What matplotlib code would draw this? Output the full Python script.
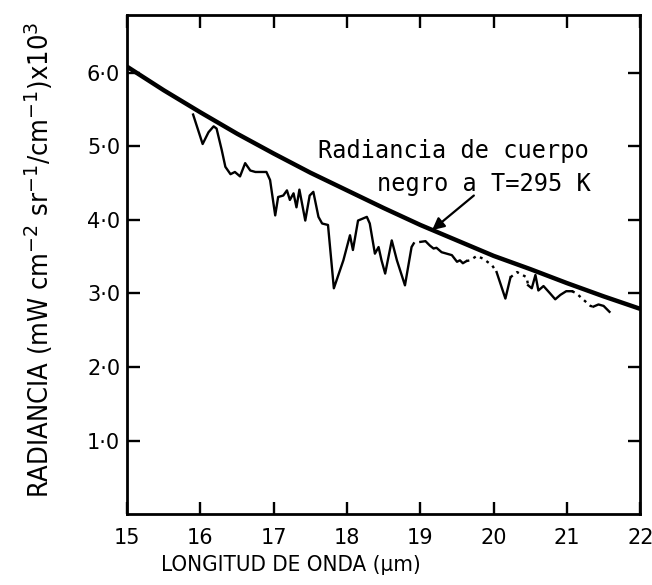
import numpy as np
import matplotlib.pyplot as plt

# black body curve
bb_wl = [15.0, 15.5, 16.0, 16.5, 17.0, 17.5, 18.0, 18.5, 19.0, 19.5, 20.0, 20.5, 21.0, 21.5, 22.0]
bb_rad = [6.08, 5.76, 5.46, 5.17, 4.90, 4.64, 4.40, 4.16, 3.93, 3.72, 3.51, 3.33, 3.14, 2.96, 2.79]

# measured spectrum, solid pieces
wl_a = [15.90, 16.03, 16.11, 16.18, 16.22, 16.29, 16.34, 16.41, 16.47, 16.54, 16.61, 16.68,
        16.75, 16.90, 16.95, 17.02, 17.06, 17.13, 17.18, 17.22, 17.27, 17.31, 17.35, 17.43,
        17.49, 17.54, 17.61, 17.66, 17.74, 17.82, 17.95, 18.04, 18.08, 18.15, 18.27, 18.31,
        18.38, 18.43, 18.47, 18.52, 18.61, 18.68, 18.79, 18.88, 18.91]
rad_a = [5.43, 5.03, 5.19, 5.27, 5.24, 4.95, 4.72, 4.62, 4.65, 4.59, 4.77, 4.67,
         4.65, 4.65, 4.54, 4.06, 4.31, 4.33, 4.40, 4.27, 4.36, 4.17, 4.41, 3.99,
         4.33, 4.38, 4.04, 3.95, 3.93, 3.07, 3.45, 3.79, 3.59, 3.99, 4.04, 3.95,
         3.54, 3.63, 3.45, 3.27, 3.72, 3.45, 3.11, 3.63, 3.68]
wl_b = [19.00, 19.07, 19.13, 19.18, 19.22, 19.29, 19.36, 19.43, 19.50, 19.54, 19.58, 19.63]
rad_b = [3.70, 3.71, 3.65, 3.61, 3.62, 3.56, 3.54, 3.52, 3.43, 3.45, 3.41, 3.44]
wl_c = [20.04, 20.16, 20.23]
rad_c = [3.29, 2.93, 3.22]
wl_d = [20.47, 20.52, 20.57, 20.61, 20.68, 20.77, 20.84, 20.91, 20.99, 21.07]
rad_d = [3.11, 3.07, 3.25, 3.04, 3.10, 3.00, 2.92, 2.98, 3.03, 3.03]
wl_e = [21.36, 21.43, 21.50, 21.58]
rad_e = [2.82, 2.85, 2.83, 2.75]

# dotted pieces
wl_dot1 = [19.63, 19.68, 19.77, 19.86, 19.98, 20.04]
rad_dot1 = [3.44, 3.45, 3.51, 3.47, 3.38, 3.29]
wl_dot2 = [20.23, 20.32, 20.45, 20.47]
rad_dot2 = [3.22, 3.29, 3.22, 3.11]
wl_dot3 = [21.07, 21.13, 21.23, 21.32, 21.36]
rad_dot3 = [3.03, 3.00, 2.91, 2.83, 2.82]

xticks = [15, 16, 17, 18, 19, 20, 21, 22]
yticks = [1, 2, 3, 4, 5, 6]

fig = plt.figure(figsize=(6.52, 5.85), dpi=100)
ax = fig.add_axes([0.195, 0.121, 0.787, 0.853])

ax.plot(bb_wl, bb_rad, color='black', lw=3.2, solid_capstyle='butt')
for x, y in [(wl_a, rad_a), (wl_b, rad_b), (wl_c, rad_c), (wl_d, rad_d), (wl_e, rad_e)]:
    ax.plot(x, y, color='black', lw=1.7)
for x, y in [(wl_dot1, rad_dot1), (wl_dot2, rad_dot2), (wl_dot3, rad_dot3)]:
    ax.plot(x, y, color='black', lw=1.7, linestyle=(0, (1.2, 2.0)))

ax.annotate('', xy=(19.16, 3.86), xytext=(19.73, 4.33),
            arrowprops=dict(arrowstyle='-|>', color='black', lw=1.6,
                            mutation_scale=18, shrinkA=0, shrinkB=0))
ax.text(21.3, 4.93, 'Radiancia de cuerpo', ha='right', va='center',
        family='DejaVu Sans Mono', fontsize=17)
ax.text(21.32, 4.48, 'negro a T=295 K', ha='right', va='center',
        family='DejaVu Sans Mono', fontsize=17)

ax.set_xlim(15, 22)
ax.set_ylim(0, 6.78)
ax.set_xticks(xticks)
ax.set_xticklabels([str(t) for t in xticks])
ax.set_yticks(yticks)
ax.set_yticklabels([f'{t:.1f}'.replace('.', '·') for t in yticks])
ax.tick_params(direction='in', length=9, width=1.7, labelsize=15,
               top=True, right=True)
ax.tick_params(axis='x', pad=10)
ax.tick_params(axis='y', pad=5)
for s in ax.spines.values():
    s.set_linewidth(2.0)

ax.set_xlabel('LONGITUD DE ONDA (µm)', family='DejaVu Sans', stretch='condensed',
              fontsize=16)
ax.xaxis.set_label_coords(0.32, -0.082)
ax.set_ylabel(r'RADIANCIA (mW cm$^{-2}$ sr$^{-1}$/cm$^{-1}$)x10$^{3}$',
              family='DejaVu Sans', stretch='condensed', fontsize=19.5)
ax.yaxis.set_label_coords(-0.14, 0.51)

fig.savefig('out.png', dpi=100)
